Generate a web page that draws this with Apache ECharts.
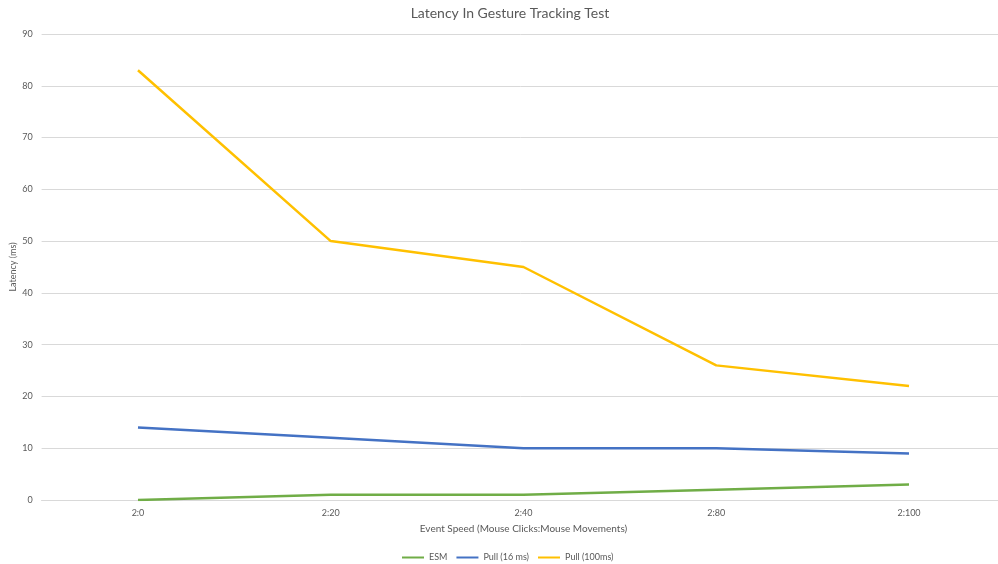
<!DOCTYPE html>
<html>
<head>
<meta charset="utf-8">
<script src="https://cdn.jsdelivr.net/npm/echarts@6/dist/echarts.min.js"></script>
<style>
html, body { margin: 0; padding: 0; background: #ffffff; }
#chart { width: 998px; height: 564px; }
</style>
</head>
<body>
<div id="chart"></div>
<script>
// Event speed categories (mouse clicks : mouse movements)
const categories = ['2:0', '2:20', '2:40', '2:80', '2:100'];
// Latency in ms per approach
const esm = [0, 1, 1, 2, 3];
const pull16 = [14, 12, 10, 10, 9];
const pull100 = [83, 50, 45, 26, 22];
const seriesNames = ['ESM', 'Pull (16 ms)', 'Pull (100ms)'];

const font = 'Lato, "Open Sans", sans-serif';
const labelColor = '#595959';

const chart = echarts.init(document.getElementById('chart'));

function lineSeries(name, data, color) {
  return {
    name: name,
    type: 'line',
    data: data,
    symbol: 'none',
    lineStyle: { color: color, width: 2.5 },
    itemStyle: { color: color },
    emphasis: { disabled: true }
  };
}

chart.setOption({
  animation: false,
  title: {
    text: 'Latency In Gesture Tracking Test',
    left: 505,
    top: 1,
    textAlign: 'center',
    textStyle: { fontFamily: font, fontSize: 14, fontWeight: 'normal', color: labelColor }
  },
  // plot area runs past the right edge of the canvas
  grid: { left: 41.6, top: 34, width: 963.8, height: 466, containLabel: false, outerBoundsMode: 'none' },
  legend: {
    top: 548,
    left: 397,
    itemWidth: 22,
    itemHeight: 2,
    itemGap: 9,
    icon: 'rect',
    textStyle: { fontFamily: font, fontSize: 9, color: labelColor },
    data: seriesNames
  },
  xAxis: {
    type: 'category',
    data: categories,
    boundaryGap: true,
    axisLine: { show: true, lineStyle: { color: '#d9d9d9', width: 1 } },
    axisTick: { show: false },
    axisLabel: { fontFamily: font, fontSize: 9, color: labelColor, margin: 9 },
    name: 'Event Speed (Mouse Clicks:Mouse Movements)',
    nameLocation: 'middle',
    nameGap: 24,
    nameMoveOverlap: false,
    nameTextStyle: { fontFamily: font, fontSize: 10, color: labelColor }
  },
  yAxis: {
    type: 'value',
    min: 0,
    max: 90,
    interval: 10,
    axisLine: { show: false },
    axisTick: { show: false },
    splitLine: { lineStyle: { color: '#d9d9d9', width: 1 } },
    axisLabel: { fontFamily: font, fontSize: 9, color: labelColor, margin: 9 },
    name: 'Latency (ms)',
    nameLocation: 'middle',
    nameGap: 24,
    nameMoveOverlap: false,
    nameRotate: 90,
    nameTextStyle: { fontFamily: font, fontSize: 9, color: labelColor }
  },
  series: [
    lineSeries(seriesNames[0], esm, '#70AD47'),
    lineSeries(seriesNames[1], pull16, '#4472C4'),
    lineSeries(seriesNames[2], pull100, '#FFC000')
  ]
});
</script>
</body>
</html>
